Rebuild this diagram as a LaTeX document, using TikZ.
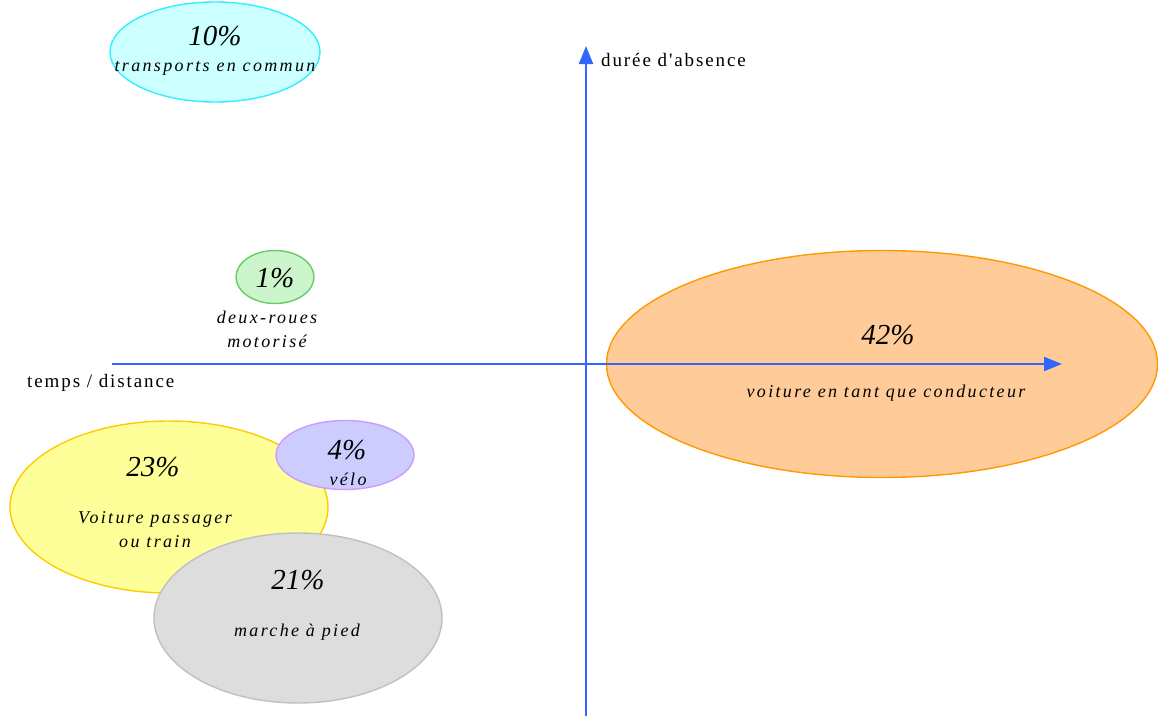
\documentclass[tikz,border=0pt]{standalone}
\usepackage{fontspec}
\setmainfont{Liberation Serif}
\newfontfamily\pctfont{Liberation Serif}
\newfontfamily\lblfont[LetterSpace=13]{Liberation Serif}
\newfontfamily\axfont[LetterSpace=10]{Liberation Serif}
\usetikzlibrary{arrows.meta,shapes.geometric}
\definecolor{axisblue}{HTML}{3366FF}
\definecolor{cyanfill}{HTML}{CCFFFF}
\definecolor{cyanline}{HTML}{33EEFF}
\definecolor{greenfill}{HTML}{CCF5CC}
\definecolor{greenline}{HTML}{66CC66}
\definecolor{orangefill}{HTML}{FFCC99}
\definecolor{orangeline}{HTML}{FF9900}
\definecolor{yellowfill}{HTML}{FFFF99}
\definecolor{yellowline}{HTML}{FFCC00}
\definecolor{violetfill}{HTML}{CCCCFF}
\definecolor{violetline}{HTML}{CC99FF}
\definecolor{greyfill}{HTML}{DDDDDD}
\definecolor{greyline}{HTML}{C0C0C0}
\begin{document}
\begin{tikzpicture}[x=1pt,y=-1pt,
  bubble/.style={ellipse,line width=1.4pt,inner sep=0pt},
  pct/.style={font=\pctfont\itshape\fontsize{29}{30}\selectfont,inner sep=0pt},
  lbl/.style={font=\lblfont\itshape\fontsize{18}{24}\selectfont,inner sep=0pt,align=center},
  axlbl/.style={font=\axfont\fontsize{19}{20}\selectfont,inner sep=0pt,anchor=west},
  axis/.style={draw=axisblue,line width=2pt,-{Triangle[width=14pt,length=18pt]}}]
\useasboundingbox[fill=white] (0,0) rectangle (1158,715);

% bubbles
\node[bubble,fill=cyanfill,draw=cyanline,minimum width=210,minimum height=100] (tc) at (215,52) {};
\node[bubble,fill=greenfill,draw=greenline,minimum width=78,minimum height=53] (dr) at (275,277) {};
\node[bubble,fill=orangefill,draw=orangeline,minimum width=551,minimum height=227] (vc) at (882,364) {};
\node[bubble,fill=yellowfill,draw=yellowline,minimum width=318,minimum height=172] (vp) at (169,507) {};
\node[bubble,fill=violetfill,draw=violetline,minimum width=138,minimum height=69] (ve) at (345,455) {};
\node[bubble,fill=greyfill,draw=greyline,minimum width=288,minimum height=170] (mp) at (298,618) {};

% axes
\coordinate (xl) at (112,364);
\coordinate (xr) at (1062,364);
\coordinate (yb) at (586,716);
\coordinate (yt) at (586,46);
\draw[axis] (xl) -- (xr);
\draw[axis] (yb) -- (yt);
\node[axlbl] (ylab) at (601,60) {durée d'absence};
\node[axlbl] (xlab) at (27,383) {temps / distance};

% labels
\node[pct] (tcp) at (215,36) {10\%};
\node[lbl] (tcl) at (215,68) {transports en commun};
\node[pct] (drp) at (275,278) {1\%};
\node[lbl] (drl) at (267,329) {deux-roues\\motorisé};
\node[pct] (vcp) at (888,335) {42\%};
\node[lbl] (vcl) at (886,393) {voiture en tant que conducteur};
\node[pct] (vpp) at (153,467) {23\%};
\node[lbl] (vpl) at (155,530) {Voiture passager\\ou train};
\node[pct] (vep) at (347,450) {4\%};
\node[lbl] (vel) at (348,479) {vélo};
\node[pct] (mpp) at (298,580) {21\%};
\node[lbl] (mpl) at (297,632) {marche à pied};
\end{tikzpicture}
\end{document}
